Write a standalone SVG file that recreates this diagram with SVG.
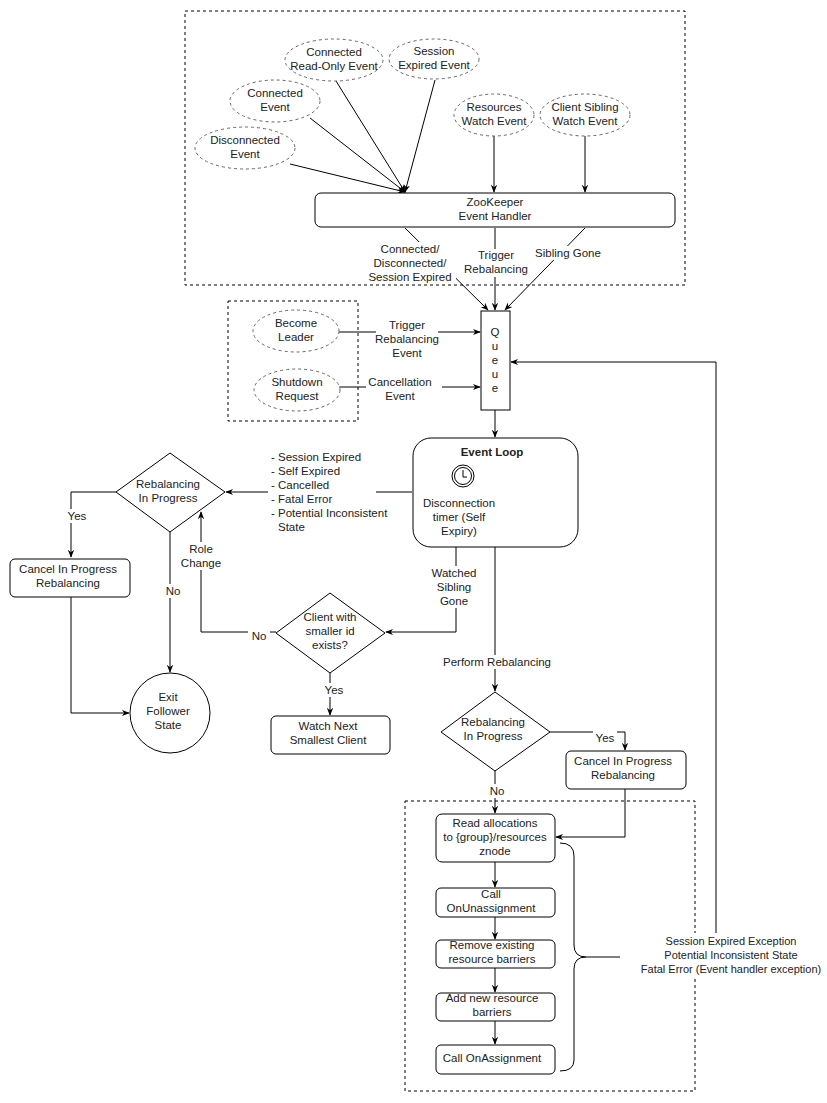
<svg xmlns="http://www.w3.org/2000/svg" width="827" height="1103" viewBox="0 0 827 1103">
<style>
text{font-family:"Liberation Sans",Arial,sans-serif;font-size:11.5px;fill:#222;text-anchor:middle}
.l{text-anchor:start}
.s{font-size:11px}
.b{font-weight:bold}
.n{fill:#fff;stroke:#000;stroke-width:1}
.e{fill:#fff;stroke:#666;stroke-width:1;stroke-dasharray:3 3}
.g{fill:none;stroke:#000;stroke-width:1;stroke-dasharray:3 3}
.c{fill:none;stroke:#000;stroke-width:1}
</style>
<defs><marker id="a" viewBox="0 0 10 10" refX="9" refY="5" markerWidth="8" markerHeight="8" orient="auto"><path d="M0,1 L10,5 L0,9 L3,5 Z" fill="#000"/></marker></defs>
<rect width="827" height="1103" fill="#fff"/>
<rect class="g" x="185" y="11" width="500" height="274"/>
<rect class="g" x="228" y="301" width="130" height="120"/>
<rect class="g" x="405" y="801" width="290" height="290"/>
<g id="connectors">
<path class="c" marker-end="url(#a)" d="M290,164 L405,192"/>
<path class="c" marker-end="url(#a)" d="M310,118 L405,192"/>
<path class="c" marker-end="url(#a)" d="M336,81 L405,192"/>
<path class="c" marker-end="url(#a)" d="M435,80 L405,192"/>
<path class="c" marker-end="url(#a)" d="M494,136 L494,192"/>
<path class="c" marker-end="url(#a)" d="M585,136 L585,192"/>
<path class="c" marker-end="url(#a)" d="M405,228 L488,310"/>
<path class="c" marker-end="url(#a)" d="M495,228 L495,310"/>
<path class="c" marker-end="url(#a)" d="M585,228 L505,310"/>
<path class="c" marker-end="url(#a)" d="M339,332 L480,332"/>
<path class="c" marker-end="url(#a)" d="M339,387 L480,387"/>
<path class="c" marker-end="url(#a)" d="M716,937 L716,362 L511,362"/>
<path class="c" marker-end="url(#a)" d="M495,410 L495,437"/>
<path class="c" marker-end="url(#a)" d="M412,492 L226,492"/>
<path class="c" marker-end="url(#a)" d="M116,492 L71,492 L71,557"/>
<path class="c" marker-end="url(#a)" d="M71,597 L71,713 L129,713"/>
<path class="c" marker-end="url(#a)" d="M170,532 L170,672"/>
<path class="c" marker-end="url(#a)" d="M276,632 L201,632 L201,512"/>
<path class="c" marker-end="url(#a)" d="M456,547 L456,632 L386,632"/>
<path class="c" marker-end="url(#a)" d="M330,673 L330,715"/>
<path class="c" marker-end="url(#a)" d="M495,547 L495,691"/>
<path class="c" marker-end="url(#a)" d="M550,732 L625,732 L625,750"/>
<path class="c" marker-end="url(#a)" d="M625,789 L625,837 L556,837"/>
<path class="c" marker-end="url(#a)" d="M495,771 L495,813"/>
<path class="c" marker-end="url(#a)" d="M495,862 L495,887"/>
<path class="c" marker-end="url(#a)" d="M495,917 L495,939"/>
<path class="c" marker-end="url(#a)" d="M495,968 L495,992"/>
<path class="c" marker-end="url(#a)" d="M495,1021 L495,1044"/>
<path class="c" d="M560,843 Q574,843 574,856 L574,945 Q574,957 586,957 L620,957 M586,957 Q574,957 574,969 L574,1060 Q574,1071 560,1071"/>
</g>
<g fill="#fff">
<rect x="366" y="242" width="90" height="42"/><rect x="472" y="249" width="48" height="28"/><rect x="532" y="246" width="72" height="14"/>
<rect x="376" y="318" width="62" height="42"/><rect x="366" y="375" width="76" height="28"/>
<rect x="430" y="566" width="50" height="42"/><rect x="180" y="542" width="44" height="28"/><rect x="248" y="629" width="22" height="14"/>
<rect x="160" y="584" width="22" height="14"/><rect x="64" y="509" width="26" height="14"/><rect x="322" y="683" width="24" height="14"/>
<rect x="440" y="655" width="114" height="14"/><rect x="593" y="731" width="24" height="14"/><rect x="486" y="784" width="22" height="14"/>
<rect x="645" y="933" width="173" height="44"/><rect x="268" y="450" width="108" height="84"/>
</g>
<text x="410" y="253">Connected/</text><text x="410" y="267">Disconnected/</text><text x="410" y="281">Session Expired</text>
<text x="496" y="259">Trigger</text><text x="496" y="273">Rebalancing</text>
<text x="568" y="257">Sibling Gone</text>
<text x="407" y="329">Trigger</text><text x="407" y="343">Rebalancing</text><text x="407" y="357">Event</text>
<text x="400" y="386">Cancellation</text><text x="400" y="400">Event</text>
<text class="l" x="271" y="461">- Session Expired</text><text class="l" x="271" y="475">- Self Expired</text><text class="l" x="271" y="489">- Cancelled</text><text class="l" x="271" y="503">- Fatal Error</text><text class="l" x="271" y="517">- Potential Inconsistent</text><text class="l" x="278" y="531">State</text>
<text x="77" y="520">Yes</text><text x="173" y="595">No</text>
<text x="201" y="553">Role</text><text x="201" y="567">Change</text><text x="259" y="640">No</text>
<text x="454" y="577">Watched</text><text x="454" y="591">Sibling</text><text x="454" y="605">Gone</text>
<text x="334" y="694">Yes</text><text x="497" y="666">Perform Rebalancing</text>
<text x="605" y="742">Yes</text><text x="497" y="795">No</text>
<text class="s" x="731" y="945">Session Expired Exception</text><text class="s" x="731" y="959">Potential Inconsistent State</text><text class="s" x="731" y="973">Fatal Error (Event handler exception)</text>
<g id="n-ro"><ellipse class="e" cx="334" cy="60" rx="49" ry="21"/><text x="334" y="56">Connected</text><text x="334" y="70">Read-Only Event</text></g>
<g id="n-se"><ellipse class="e" cx="434" cy="59" rx="45" ry="20"/><text x="434" y="55">Session</text><text x="434" y="69">Expired Event</text></g>
<g id="n-ce"><ellipse class="e" cx="275" cy="101" rx="45" ry="21"/><text x="275" y="97">Connected</text><text x="275" y="111">Event</text></g>
<g id="n-de"><ellipse class="e" cx="245" cy="148" rx="50" ry="21"/><text x="245" y="144">Disconnected</text><text x="245" y="158">Event</text></g>
<g id="n-rw"><ellipse class="e" cx="494" cy="115" rx="40" ry="21"/><text x="494" y="111">Resources</text><text x="494" y="125">Watch Event</text></g>
<g id="n-cs"><ellipse class="e" cx="585" cy="115" rx="45" ry="21"/><text x="585" y="111">Client Sibling</text><text x="585" y="125">Watch Event</text></g>
<g id="n-zk"><rect class="n" x="315" y="193" width="360" height="34" rx="6"/><text x="495" y="206">ZooKeeper</text><text x="495" y="220">Event Handler</text></g>
<g id="n-bl"><ellipse class="e" cx="296" cy="331" rx="43" ry="21"/><text x="296" y="327">Become</text><text x="296" y="341">Leader</text></g>
<g id="n-sr"><ellipse class="e" cx="297" cy="390" rx="43" ry="21"/><text x="297" y="386">Shutdown</text><text x="297" y="400">Request</text></g>
<g id="n-q"><rect class="n" x="481" y="311" width="29" height="99"/><text x="495" y="336">Q</text><text x="495" y="350">u</text><text x="495" y="364">e</text><text x="495" y="378">u</text><text x="495" y="392">e</text></g>
<g id="n-el"><rect class="n" x="413" y="438" width="165" height="109" rx="18"/><text class="b" x="492" y="456">Event Loop</text>
<circle cx="463" cy="476" r="11" fill="#fff" stroke="#000"/><circle cx="463" cy="476" r="8.5" fill="none" stroke="#000"/><path d="M463,470 L463,477 L467,477" fill="none" stroke="#000"/>
<text x="459" y="507">Disconnection</text><text x="459" y="521">timer (Self</text><text x="459" y="535">Expiry)</text></g>
<g id="n-rip1"><path class="n" d="M116,492 L170,453 L225,492 L170,532 Z"/><text x="168" y="488">Rebalancing</text><text x="168" y="502">In Progress</text></g>
<g id="n-cip1"><rect class="n" x="10" y="559" width="120" height="38" rx="5"/><text x="68" y="573">Cancel In Progress</text><text x="68" y="587">Rebalancing</text></g>
<g id="n-exit"><circle class="n" cx="170" cy="713" r="40"/><text x="168" y="701">Exit</text><text x="168" y="715">Follower</text><text x="168" y="729">State</text></g>
<g id="n-cw"><path class="n" d="M276,633 L330,593 L385,633 L330,673 Z"/><text x="330" y="621">Client with</text><text x="330" y="635">smaller id</text><text x="330" y="649">exists?</text></g>
<g id="n-wn"><rect class="n" x="271" y="716" width="119" height="38" rx="5"/><text x="328" y="730">Watch Next</text><text x="328" y="744">Smallest Client</text></g>
<g id="n-rip2"><path class="n" d="M441,732 L495,692 L550,732 L495,771 Z"/><text x="493" y="726">Rebalancing</text><text x="493" y="740">In Progress</text></g>
<g id="n-cip2"><rect class="n" x="566" y="751" width="120" height="38" rx="5"/><text x="623" y="765">Cancel In Progress</text><text x="623" y="779">Rebalancing</text></g>
<g id="n-read"><rect class="n" x="436" y="814" width="119" height="48" rx="6"/><text x="495" y="827">Read allocations</text><text x="495" y="841">to {group}/resources</text><text x="495" y="855">znode</text></g>
<g id="n-un"><rect class="n" x="436" y="888" width="119" height="29" rx="5"/><text x="491" y="898">Call</text><text x="491" y="912">OnUnassignment</text></g>
<g id="n-rm"><rect class="n" x="436" y="940" width="119" height="28" rx="5"/><text x="492" y="949">Remove existing</text><text x="492" y="963">resource barriers</text></g>
<g id="n-add"><rect class="n" x="436" y="993" width="119" height="28" rx="5"/><text x="492" y="1002">Add new resource</text><text x="492" y="1016">barriers</text></g>
<g id="n-on"><rect class="n" x="436" y="1045" width="119" height="29" rx="5"/><text x="492" y="1062">Call OnAssignment</text></g>
</svg>
